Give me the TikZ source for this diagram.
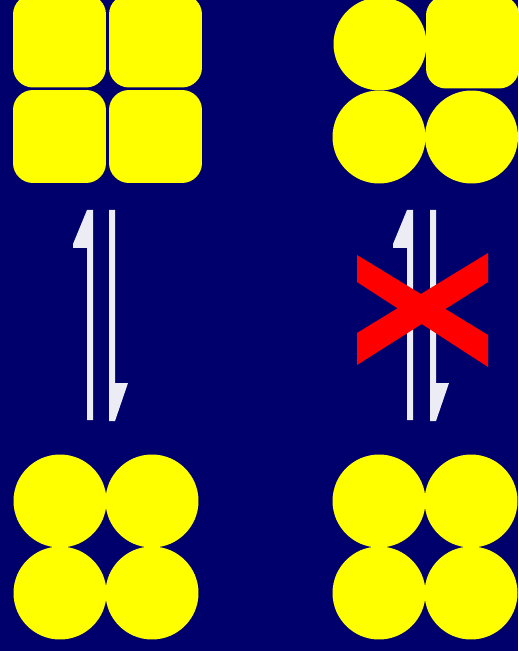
\documentclass[tikz,border=0pt]{standalone}
\usepackage{xcolor}
\usepackage{tikz}
\usetikzlibrary{positioning}

\definecolor{navybg}{RGB}{0,0,108}
\definecolor{arrowwhite}{RGB}{236,236,244}
\definecolor{blobyellow}{RGB}{255,255,0}
\definecolor{crossred}{RGB}{255,0,0}

\begin{document}
\begin{tikzpicture}[x=0.02cm, y=-0.02cm,
  blob/.style={fill=blobyellow, inner sep=0pt, minimum size=1.86cm},
  sq/.style={blob, rectangle, rounded corners=0.4cm},
  ball/.style={blob, circle},
  arw/.style={fill=arrowwhite},
  cross/.style={fill=crossred}]
\fill[navybg] (0,0) rectangle (518,651);
\useasboundingbox (0,0) rectangle (518,651);
% top left: four squares
\node[sq]   (tla) at (59.5,41)   {};
\node[sq]   (tlb) at (155.5,41)  {};
\node[sq]   (tlc) at (59.5,136.5) {};
\node[sq]   (tld) at (155.5,136.5){};
% top right: three balls and one square
\node[ball] (tra) at (380,44)    {};
\node[sq]   (trb) at (472.5,42)  {};
\node[ball] (trc) at (379,137)   {};
\node[ball] (trd) at (471.5,137) {};
% bottom left: four balls
\node[ball] (bla) at (60,501)  {};
\node[ball] (blb) at (152,501) {};
\node[ball] (blc) at (60,593)  {};
\node[ball] (bld) at (152,593) {};
% bottom right: four balls
\node[ball] (bra) at (379,501) {};
\node[ball] (brb) at (471,501) {};
\node[ball] (brc) at (379,593) {};
\node[ball] (brd) at (471,593) {};
% equilibrium arrows
\coordinate (lup)   at (87,420);
\coordinate (ldown) at (109,210);
\coordinate (rup)   at (407,420);
\coordinate (rdown) at (430,210);
\fill[arw] (lup) -- ++(0,-172) -- ++(-14,0) -- ++(0,-4) -- ++(14,-34) -- ++(6,0) -- ++(0,210) -- cycle;
\fill[arw] (ldown) -- ++(6,0) -- ++(0,173) -- ++(13,0) -- ++(-13,38) -- ++(-6,0) -- cycle;
\fill[arw] (rup) -- ++(0,-172) -- ++(-14,0) -- ++(0,-4) -- ++(14,-34) -- ++(6,0) -- ++(0,210) -- cycle;
\fill[arw] (rdown) -- ++(6,0) -- ++(0,173) -- ++(13,0) -- ++(-13,38) -- ++(-6,0) -- cycle;
% red cross
\fill[cross] (357,255) -- (488,335) -- (488,367) -- (357,282) -- cycle;
\fill[cross] (357,333) -- (488,253) -- (488,282) -- (357,365) -- cycle;
\end{tikzpicture}
\end{document}
